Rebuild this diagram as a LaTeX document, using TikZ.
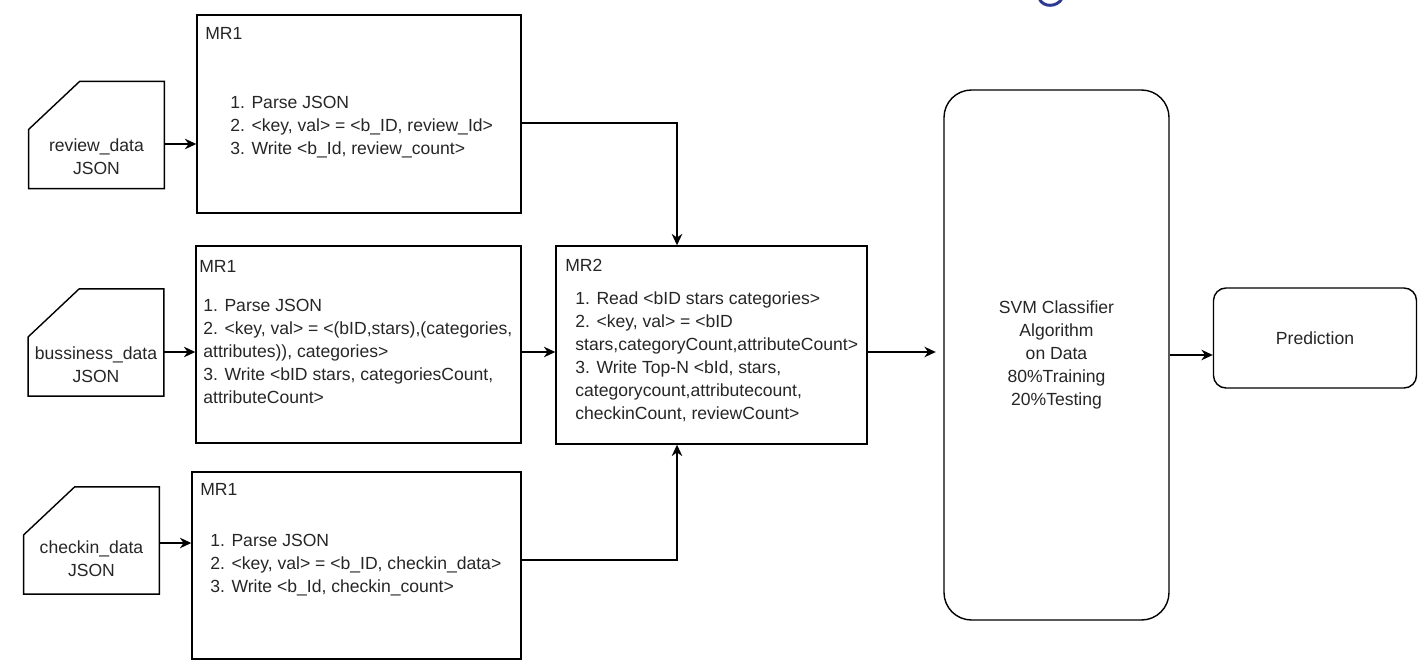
\documentclass[tikz,border=0pt]{standalone}
\usepackage{fontspec}
\setmainfont{Liberation Sans}
\usepackage{tikz}
\usetikzlibrary{arrows.meta}
\definecolor{titleblue}{RGB}{46,57,146}

\begin{document}
\begin{tikzpicture}[
        font=\fontsize{10}{13.1}\selectfont,
        every node/.style={text=black!85},
        line/.style={line width=0.8pt},
        flow/.style={line, -{Stealth[length=6.5pt, width=6pt]}},
        box/.style={draw, line, shape=rectangle, inner sep=0pt},
        card/.style={shape=rectangle, inner sep=0pt, minimum width=2.7cm, minimum height=2.13cm},
        txt/.style={inner sep=0pt, align=left, anchor=west}
    ]
            \useasboundingbox (0,0) rectangle (28.4,-13.4);
            \clip (0,0) rectangle (28.4,-13.4);
            % cut-off title stroke at the top edge
            \draw[titleblue, line width=1.7pt, line cap=round] (20.79,0.02) .. controls (20.86,-0.15) and (21.14,-0.15) .. (21.24,0.03);

            % input files
            \node[card] (rev) at (1.93,-2.7) {};
            \node[card] (bus) at (1.92,-6.85) {};
            \node[card] (chk) at (1.83,-10.81) {};
            \foreach \c in {rev,bus,chk}
                \draw[line] (\c.south west) -- ([yshift=-0.96cm]\c.north west) -- ([xshift=1.02cm]\c.north west) -- (\c.north east) -- (\c.south east) -- cycle;
            \node[align=center, inner sep=0pt] (revt) at ([yshift=-0.44cm]rev.center) {review\_data\\JSON};
            \node[align=center, inner sep=0pt] (bust) at ([yshift=-0.44cm]bus.center) {bussiness\_data\\JSON};
            \node[align=center, inner sep=0pt] (chkt) at ([yshift=-0.36cm]chk.center) {checkin\_data\\JSON};

            % map reduce jobs
            \node[box, minimum width=6.48cm, minimum height=3.96cm] (mra) at (7.18,-2.28) {};
            \node[box, minimum width=6.5cm, minimum height=3.94cm] (mrb) at (7.17,-6.89) {};
            \node[box, minimum width=6.58cm, minimum height=3.74cm] (mrc) at (7.13,-11.31) {};
            \node[box, minimum width=6.22cm, minimum height=3.96cm] (mr2) at (14.23,-6.9) {};

            \node[txt] (mral) at (4.1,-0.66) {MR1};
            \node[txt] (mrbl) at (3.98,-5.32) {MR1};
            \node[txt] (mrcl) at (4.0,-9.78) {MR1};
            \node[txt] (mr2l) at (11.3,-5.3) {MR2};

            \node[txt] (mrat) at (4.6,-2.54) {1. Parse JSON\\2. <key, val> = <b\_ID, review\_Id>\\3. Write <b\_Id, review\_count>};
            \node[txt] (mrbt) at (4.06,-7.02) {1. Parse JSON\\2. <key, val> = <(bID,stars),(categories,\\attributes)), categories>\\3. Write <bID stars, categoriesCount,\\attributeCount>};
            \node[txt] (mrct) at (4.2,-11.3) {1. Parse JSON\\2. <key, val> = <b\_ID, checkin\_data>\\3. Write <b\_Id, checkin\_count>};
            \node[txt] (mr2t) at (11.5,-7.14) {1. Read <bID stars categories>\\2. <key, val> = <bID\\stars,categoryCount,attributeCount>\\3. Write Top-N <bId, stars,\\categorycount,attributecount,\\checkinCount, reviewCount>};

            % classifier
            \node[box, rounded corners=0.55cm, minimum width=4.5cm, minimum height=10.6cm, align=center] (svm) at (21.13,-7.1) {SVM Classifier\\Algorithm\\on Data\\80\%Training\\20\%Testing};
            \node[box, rounded corners=0.25cm, minimum width=4.06cm, minimum height=2cm] (pred) at (26.3,-6.76) {Prediction};

            \draw[flow] ([yshift=-0.18cm]rev.east) -- ([yshift=-0.18cm]rev.east -| mra.west);
            \draw[flow] ([yshift=-0.19cm]bus.east) -- ([yshift=-0.19cm]bus.east -| mrb.west);
            \draw[flow] ([yshift=-0.05cm]chk.east) -- ([yshift=-0.05cm]chk.east -| mrc.west);
            \draw[flow] ([yshift=-0.18cm]mra.east) -| ([xshift=-0.69cm]mr2.north);
            \draw[flow] ([yshift=-0.15cm]mrb.east) -- ([yshift=-0.15cm]mrb.east -| mr2.west);
            \draw[flow] ([yshift=0.11cm]mrc.east) -| ([xshift=-0.69cm]mr2.south);
            \draw[flow, shorten >=0.15cm] ([yshift=-0.14cm]mr2.east) -- ([yshift=-0.14cm]mr2.east -| svm.west);
            \draw[flow] (svm.east) -- (svm.east -| pred.west);
        \end{tikzpicture}
\end{document}
